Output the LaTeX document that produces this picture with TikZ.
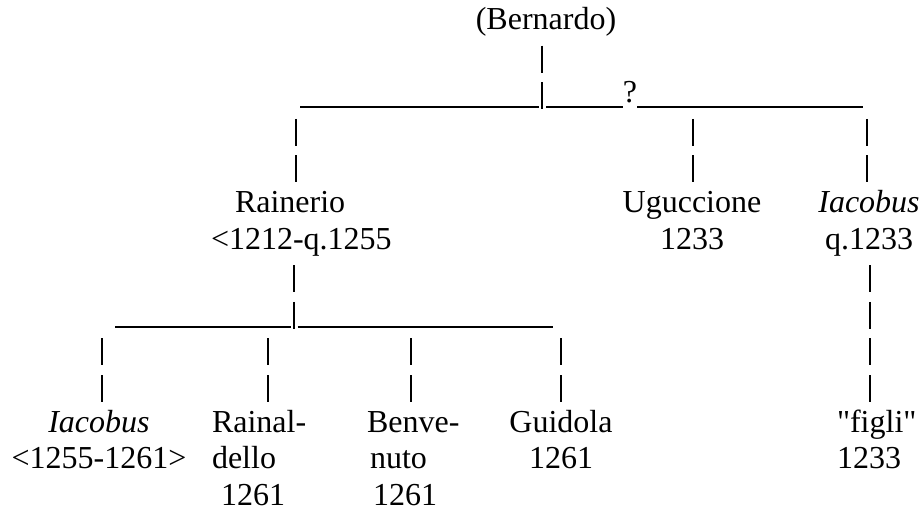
\documentclass[tikz,border=0pt]{standalone}
\usepackage{fontspec}
\setmainfont{Liberation Serif}[Ligatures=TeXOff]
\begin{document}
\begin{tikzpicture}[x=1bp,y=-1bp,
  txt/.style={inner sep=0pt, outer sep=0pt, font=\fontsize{32bp}{36.6bp}\selectfont, anchor=base},
  pipe/.style={line width=1.4bp, dash pattern=on 27bp off 9.6bp},
  rulel/.style={line width=1.4bp}]
\useasboundingbox (0,0) rectangle (922,511);
% people
\node[txt] (bern) at (546,29.5) {(Bernardo)};
\node[txt] (q) at (630,102.7) {?};
\node[txt, anchor=base west] (rain) at (211,212.5) {\begin{tabular}[t]{@{}l@{}}\hspace*{24bp}Rainerio\\<1212-q.1255\end{tabular}};
\node[txt] (ugu) at (692,212.5) {\begin{tabular}[t]{@{}c@{}}Uguccione\\1233\end{tabular}};
\node[txt] (iacR) at (869,212.5) {\begin{tabular}[t]{@{}c@{}}\textit{Iacobus}\\q.1233\end{tabular}};
\node[txt] (iacL) at (99,432.1) {\begin{tabular}[t]{@{}c@{}}\textit{Iacobus}\\<1255-1261>\end{tabular}};
\node[txt, anchor=base west] (rainal) at (212,432.1) {\begin{tabular}[t]{@{}l@{}}Rainal-\\dello\\\hspace*{9bp}1261\end{tabular}};
\node[txt, anchor=base west] (benve) at (367,432.1) {\begin{tabular}[t]{@{}l@{}}Benve-\\\hspace*{3bp}nuto\\\hspace*{6bp}1261\end{tabular}};
\node[txt] (guid) at (561,432.1) {\begin{tabular}[t]{@{}c@{}}Guidola\\1261\end{tabular}};
\node[txt, anchor=base west] (figli) at (837,432.1) {\begin{tabular}[t]{@{}l@{}}"figli"\\1233\end{tabular}};
% junction points
\coordinate (bT) at (542,45.6);    \coordinate (bB) at (542,109.2);
\coordinate (h1a) at (300,107);  \coordinate (h1b) at (539,107);
\coordinate (h1c) at (546,107);  \coordinate (h1d) at (623,107);
\coordinate (h1e) at (637,107);  \coordinate (h1f) at (863,107);
\coordinate (rT) at (296,118.8); \coordinate (rB) at (296,182.4);
\coordinate (uT) at (693,118.8); \coordinate (uB) at (693,182.4);
\coordinate (iT) at (867,118.8); \coordinate (iB) at (867,182.4);
\coordinate (r2T) at (294,265.2); \coordinate (r2B) at (294,328.8);
\coordinate (h2a) at (115,327);  \coordinate (h2b) at (290.5,327);
\coordinate (h2c) at (297.5,327); \coordinate (h2d) at (553,327);
\coordinate (fT) at (870,265.2); \coordinate (fB) at (870,402);
\coordinate (c1T) at (102,338.4);  \coordinate (c1B) at (102,402);
\coordinate (c2T) at (268,338.4);  \coordinate (c2B) at (268,402);
\coordinate (c3T) at (411,338.4);  \coordinate (c3B) at (411,402);
\coordinate (c4T) at (561,338.4);  \coordinate (c4B) at (561,402);
% connectors
\draw[pipe] (bT) -- (bB);
\draw[rulel] (h1a) -- (h1b) (h1c) -- (h1d) (h1e) -- (h1f);
\draw[pipe] (rT) -- (rB);
\draw[pipe] (uT) -- (uB);
\draw[pipe] (iT) -- (iB);
\draw[pipe] (r2T) -- (r2B);
\draw[rulel] (h2a) -- (h2b) (h2c) -- (h2d);
\draw[pipe] (fT) -- (fB);
\draw[pipe] (c1T) -- (c1B);
\draw[pipe] (c2T) -- (c2B);
\draw[pipe] (c3T) -- (c3B);
\draw[pipe] (c4T) -- (c4B);
\end{tikzpicture}
\end{document}
